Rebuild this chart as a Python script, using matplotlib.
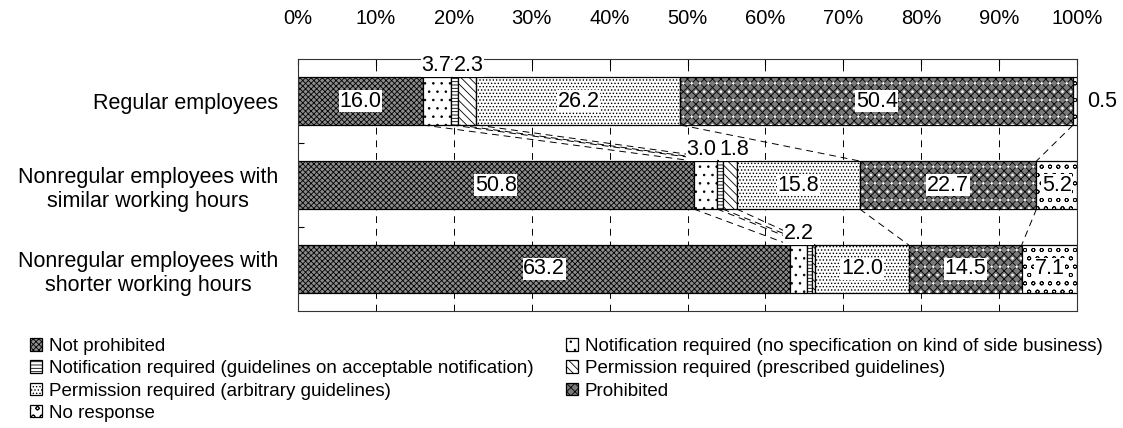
import numpy as np
import matplotlib.pyplot as plt

plt.rcParams['font.family'] = ['Liberation Sans', 'DejaVu Sans']
plt.rcParams['hatch.linewidth'] = 0.6

# Datos (porcentajes)
groups = ['Regular employees',
          'Nonregular employees with\nsimilar working hours',
          'Nonregular employees with\nshorter working hours']
categories = ['Not prohibited',
              'Notification required (no specification on kind of side business)',
              'Notification required (guidelines on acceptable notification)',
              'Permission required (prescribed guidelines)',
              'Permission required (arbitrary guidelines)',
              'Prohibited',
              'No response']
not_prohibited = [16.0, 50.8, 63.2]
notif_no_spec = [3.7, 3.0, 2.2]
notif_guidelines = [0.9, 0.7, 0.6]
perm_prescribed = [2.3, 1.8, 0.4]
perm_arbitrary = [26.2, 15.8, 12.0]
prohibited = [50.4, 22.7, 14.5]
no_response = [0.5, 5.2, 7.1]
x_ticks = [0, 10, 20, 30, 40, 50, 60, 70, 80, 90, 100]

series = [not_prohibited, notif_no_spec, notif_guidelines, perm_prescribed,
          perm_arbitrary, prohibited, no_response]
faces = ['#8c8c8c', 'white', 'white', 'white', 'white', '#7a7a7a', 'white']
hatches = ['xxxxxx', '..', '-----', '\\\\\\\\', '.....', 'xxxx', 'oo']

fig = plt.figure(figsize=(11.23, 4.28), dpi=100)
ax = fig.add_axes([298/1123, 1-311/428, 779/1123, 252/428])

y = np.arange(len(groups))
h = 0.571
vals = np.array(series)
left = np.zeros(len(groups))
bars = []
for i, v in enumerate(series):
    b = ax.barh(y, v, left=left, height=h, color=faces[i], edgecolor='black',
                hatch=hatches[i], lw=0.9, label=categories[i], zorder=2)
    if i == 5:
        # puntitos blancos del "Prohibited"
        ax.barh(y, v, left=left, height=h, color='none', edgecolor='white',
                hatch='..', lw=0, zorder=2.1)
    bars.append(b)
    left = left + np.array(v)

# Etiquetas
cum = np.cumsum(vals, axis=0)
start = cum - vals
min_sep = 4.2
for j in range(vals.shape[1]):
    above = []
    for i in range(vals.shape[0]):
        v = vals[i, j]
        xc = start[i, j] + v/2
        box = dict(facecolor='white', edgecolor='none', pad=0.5)
        if v >= 5:
            ax.text(xc, y[j], f'{v:.1f}', ha='center', va='center',
                    fontsize=15.5, bbox=box, zorder=4)
        elif v >= 1.5:
            above.append([xc, v])
        elif i == vals.shape[0]-1:
            ax.text(cum[i, j]+1.3, y[j], f'{v:.1f}', ha='left', va='center',
                    fontsize=15.5, zorder=4)
    # separar etiquetas de arriba si se pisan
    for k in range(1, len(above)):
        d = above[k][0] - above[k-1][0]
        if d < min_sep:
            m = (above[k][0] + above[k-1][0]) / 2
            above[k-1][0] = m - min_sep/2
            above[k][0] = m + min_sep/2
    for xc, v in above:
        ax.text(xc, y[j]-0.42, f'{v:.1f}', ha='center', va='center',
                fontsize=15.5, bbox=dict(facecolor='white', edgecolor='none', pad=0.3),
                zorder=4)

# Líneas punteadas entre barras
for j in range(len(groups)-1):
    for i in range(vals.shape[0]-1):
        ax.plot([cum[i, j], cum[i, j+1]], [y[j]+h/2, y[j+1]-h/2], color='black',
                lw=0.7, ls=(0, (7, 5)), zorder=3)

ax.set_xlim(0, 100)
ax.set_ylim(2.5, -0.5)
ax.set_xticks(x_ticks)
ax.set_xticklabels([f'{t}%' for t in x_ticks])
ax.xaxis.tick_top()
ax.tick_params(axis='x', direction='in', length=4, width=0.8, pad=22, labelsize=14.5)
ax.set_yticks(y)
ax.set_yticklabels(groups)
for lab in ax.get_yticklabels():
    lab.set_multialignment('center')
ax.set_yticks([0.5, 1.5], minor=True)
ax.tick_params(axis='y', which='major', length=0, pad=14, labelsize=15.5)
ax.tick_params(axis='y', which='minor', direction='in', length=4, width=0.8)
ax.grid(axis='x', color='black', lw=0.7, ls=(0, (7, 6)))
ax.set_axisbelow(True)
for s in ax.spines.values():
    s.set_linewidth(0.8)
    s.set_color('#333333')

order1 = [0, 2, 4, 6]
order2 = [1, 3, 5]
kw = dict(loc='upper left', frameon=False, fontsize=13.5, handlelength=0.65,
          handleheight=0.65, handletextpad=0.35, labelspacing=0.28,
          borderpad=0, borderaxespad=0)
leg1 = fig.legend([bars[i] for i in order1], [categories[i] for i in order1],
                  bbox_to_anchor=(30/1123, 1-338/428), **kw)
fig.legend([bars[i] for i in order2], [categories[i] for i in order2],
           bbox_to_anchor=(566/1123, 1-338/428), **kw)

fig.savefig('out.png', dpi=100)
